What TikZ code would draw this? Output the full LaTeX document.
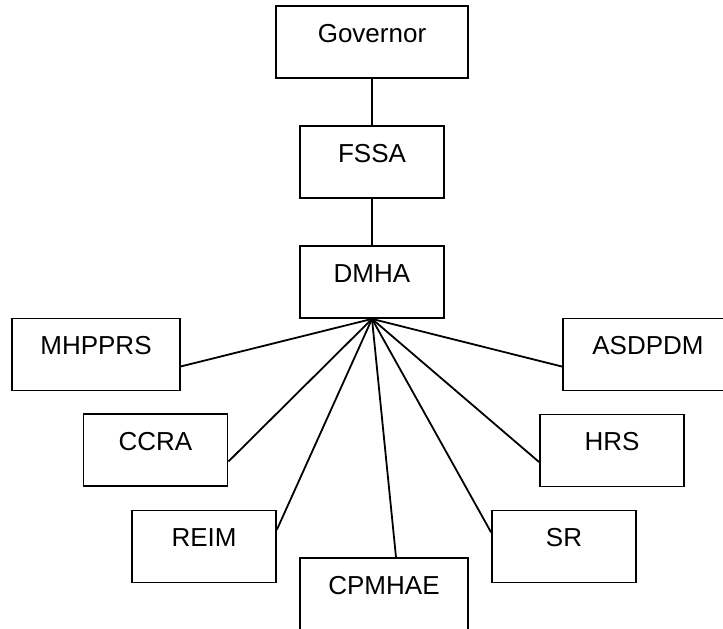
\documentclass[tikz,border=0pt]{standalone}
\usepackage{fontspec}
\setmainfont{Liberation Sans}

\begin{document}
\begin{tikzpicture}[x=1pt,y=-1pt,line width=1.8pt,
	unit node/.style={rectangle,draw,inner xsep=0pt,inner ysep=0pt,text height=36pt,text depth=36pt,minimum width=144pt,font=\fontsize{26}{31}\selectfont},
	wide node/.style={unit node,minimum width=168pt}
]

	\useasboundingbox (0,0) rectangle (723,629);

	\node[unit node,minimum width=192pt] (governor) at (372,42) {Governor};
	\node[unit node] (fssa) at (372,162) {FSSA};
	\node[unit node] (dmha) at (372,282) {DMHA};

	\node[wide node] (mhpprs) at (96,354.5) {MHPPRS};
	\node[wide node,minimum width=170pt] (asdpdm) at (648,354.5) {ASDPDM};
	\node[unit node] (ccra) at (155.5,450) {CCRA};
	\node[unit node] (hrs) at (612,450.5) {HRS};
	\node[unit node] (reim) at (204,546.5) {REIM};
	\node[unit node] (sr) at (564,546.5) {SR};
	\node[wide node] (cpmhae) at (384,594) {CPMHAE};

	\draw (governor) -- (fssa);
	\draw (fssa) -- (dmha);

	\foreach \s/\ang in {mhpprs/-8,ccra/-9,reim/13,cpmhae/72,sr/169,hrs/189,asdpdm/188}
		\draw (dmha.south) -- (\s.\ang);
\end{tikzpicture}
\end{document}
